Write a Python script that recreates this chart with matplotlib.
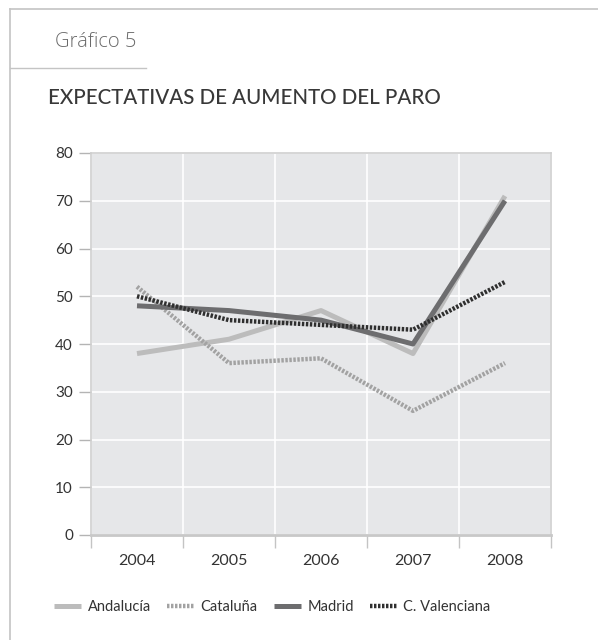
import matplotlib
matplotlib.use("Agg")
import matplotlib.pyplot as plt
from matplotlib.lines import Line2D

years = ["2004", "2005", "2006", "2007", "2008"]
andalucia = [38, 41, 47, 38, 71]
cataluna = [52, 36, 37, 26, 36]
madrid = [48, 47, 45, 40, 70]
valenciana = [50, 45, 44, 43, 53]
y_ticks = [0, 10, 20, 30, 40, 50, 60, 70, 80]

plt.rcParams["font.family"] = ["Lato", "DejaVu Sans"]

W, H = 598, 640
fig = plt.figure(figsize=(W / 100, H / 100), dpi=100)
fig.patch.set_facecolor("white")

# outer frame lines
frame = "#c4c4c4"
fig.add_artist(Line2D([10 / W, 1], [1 - 9 / H, 1 - 9 / H], color=frame, lw=1.2))
fig.add_artist(Line2D([10 / W, 10 / W], [0, 1 - 9 / H], color=frame, lw=1.2))
fig.add_artist(Line2D([10 / W, 146 / W], [1 - 68 / H, 1 - 68 / H], color=frame, lw=1.0))

fig.text(55 / W, 1 - 42 / H, "Gráfico 5", fontsize=14.5, color="#6a6a6a", va="center",
         family=["Open Sans", "DejaVu Sans"], fontweight="light")
fig.text(48 / W, 1 - 98 / H, "EXPECTATIVAS DE AUMENTO DEL PARO", fontsize=14.8,
         color="#383838", va="center", fontweight="medium")

ax = fig.add_axes([91 / W, (H - 535) / H, 460 / W, 382 / H])
ax.set_facecolor("#e6e7e9")

x = list(range(len(years)))
ax.plot(x, andalucia, color="#bcbcbc", lw=3.6, solid_capstyle="butt", label="Andalucía")
ax.plot(x, cataluna, color="#a2a2a2", lw=3.2, ls=(0, (0.55, 0.35)), label="Cataluña")
ax.plot(x, madrid, color="#6d6d6f", lw=3.6, solid_capstyle="butt", label="Madrid")
ax.plot(x, valenciana, color="#2f2f2f", lw=3.2, ls=(0, (0.55, 0.35)), label="C. Valenciana")

ax.set_xlim(-0.5, len(years) - 0.5)
ax.set_ylim(0, 80)
ax.set_yticks(y_ticks)
ax.set_xticks([i - 0.5 for i in range(len(years) + 1)])
ax.set_xticklabels([])
ax.set_xticks(x, minor=True)
ax.set_xticklabels(years, minor=True)

ax.grid(True, which="major", color="white", lw=1.2)
ax.set_axisbelow(True)

ax.tick_params(axis="x", which="major", length=9.5, color="#c4c4c4", width=1)
ax.tick_params(axis="x", which="minor", length=0, pad=14, labelsize=11.5, labelcolor="#333333")
ax.tick_params(axis="y", length=9, color="#b4b4b4", width=1, pad=4,
               labelsize=11, labelcolor="#333333")

for side in ["top", "right", "left"]:
    ax.spines[side].set_color("#cfcfcf")
    ax.spines[side].set_linewidth(1.2)
ax.spines["bottom"].set_color("#c8c8c8")
ax.spines["bottom"].set_linewidth(2)

fig.legend(loc="center left", bbox_to_anchor=(41 / W, 1 - 607 / H), ncol=4,
           frameon=False, fontsize=10.5, handlelength=1.85, handletextpad=0.45,
           columnspacing=1.1, labelcolor="#333333")

fig.savefig("out.png", dpi=100)
plt.close(fig)
